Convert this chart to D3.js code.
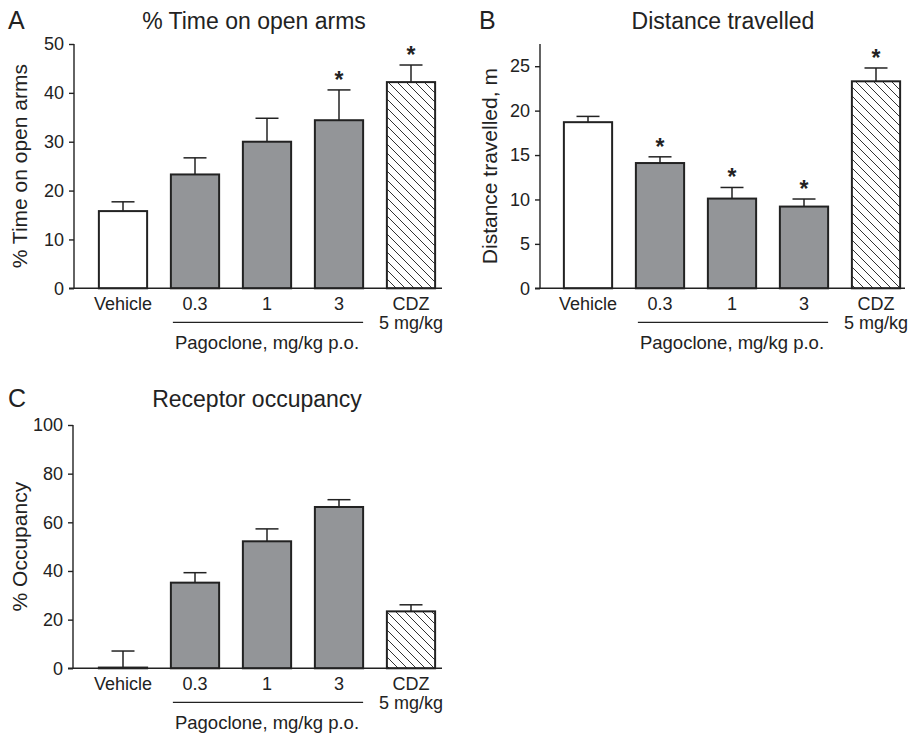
<!DOCTYPE html>
<html lang="en">
<head>
  <meta charset="UTF-8">
  <title>Pagoclone EPM</title>
  <script src="https://d3js.org/d3.v7.min.js"></script>
  <style>
    body {
      margin: 0;
      background: #fff;
      font-family: "Liberation Sans", Arial, sans-serif;
    }
    svg text {
      fill: #222;
    }
    .axis-line {
      stroke: #222;
      stroke-width: 1.4px;
      fill: none;
    }
    .bar {
      stroke: #222;
      stroke-width: 2px;
    }
    .err {
      stroke: #222;
      stroke-width: 1.5px;
    }
  </style>
</head>
<body>
<script>
// categories shared by all three panels
const categories = ['Vehicle', '0.3', '1', '3', 'CDZ'];
const barFills = ['white', 'gray', 'gray', 'gray', 'hatch'];

// A: % time on open arms (mean, SEM)
const timeOpenMean = [15.8, 23.3, 30.0, 34.4, 42.2];
const timeOpenSem = [1.9, 3.4, 4.8, 6.2, 3.5];
const timeOpenStar = [false, false, false, true, true];
const timeOpenTicks = [0, 10, 20, 30, 40, 50];

// B: distance travelled, m
const distMean = [18.7, 14.1, 10.1, 9.2, 23.3];
const distSem = [0.65, 0.7, 1.25, 0.85, 1.5];
const distStar = [false, true, true, true, true];
const distTicks = [0, 5, 10, 15, 20, 25];

// C: receptor occupancy, %
const occMean = [0.3, 35.2, 52.2, 66.3, 23.4];
const occSem = [6.8, 4.1, 5.1, 3.0, 2.7];
const occStar = [false, false, false, false, false];
const occTicks = [0, 20, 40, 60, 80, 100];

const svg = d3.select('body').append('svg')
  .attr('width', 909)
  .attr('height', 733);

const defs = svg.append('defs');
const pat = defs.append('pattern')
  .attr('id', 'hatch')
  .attr('patternUnits', 'userSpaceOnUse')
  .attr('width', 9)
  .attr('height', 9);
pat.append('rect').attr('width', 9).attr('height', 9).attr('fill', '#fff');
pat.append('path')
  .attr('d', 'M-1,-1 L10,10 M-1,8 L1,10 M8,-1 L10,1')
  .attr('stroke', '#333')
  .attr('stroke-width', 1);

function fillFor(kind) {
  if (kind === 'white') return '#fff';
  if (kind === 'gray') return '#939598';
  return 'url(#hatch)';
}

function drawPanel(cfg) {
  const g = svg.append('g');

  const y = d3.scaleLinear().domain([0, cfg.yMax]).range([cfg.bottom, cfg.top]);
  const x = d3.scaleBand()
    .domain(categories)
    .range([cfg.xStart, cfg.xStart + 5 * 72])
    .paddingInner(0.33)
    .paddingOuter(0.165);
  const bw = x.bandwidth();

  const rows = categories.map((c, i) => ({
    cat: c, mean: cfg.mean[i], sem: cfg.sem[i], star: cfg.star[i], fill: barFills[i]
  }));
  const cx = d => x(d.cat) + bw / 2;

  // y axis
  const yAxis = d3.axisLeft(y).tickValues(cfg.ticks).tickSize(5).tickPadding(5);
  const ya = g.append('g')
    .attr('transform', `translate(${cfg.axisX},0)`)
    .call(yAxis);
  ya.select('.domain').remove();
  ya.selectAll('.tick line').attr('stroke', '#222').attr('stroke-width', 1.4);
  ya.selectAll('.tick text')
    .attr('font-size', 18)
    .attr('font-family', '"Liberation Sans", Arial, sans-serif')
    .attr('fill', '#222');
  g.append('line').attr('class', 'axis-line')
    .attr('x1', cfg.axisX).attr('x2', cfg.axisX)
    .attr('y1', cfg.top).attr('y2', cfg.bottom);

  // bars
  g.selectAll('.bar')
    .data(rows)
    .enter().append('rect')
    .attr('class', 'bar')
    .attr('x', d => x(d.cat))
    .attr('width', bw)
    .attr('y', d => y(d.mean))
    .attr('height', d => y(0) - y(d.mean))
    .attr('fill', d => fillFor(d.fill));

  // error bars (upper only)
  const err = g.selectAll('.errg')
    .data(rows)
    .enter().append('g');
  err.append('line').attr('class', 'err')
    .attr('x1', cx).attr('x2', cx)
    .attr('y1', d => y(d.mean))
    .attr('y2', d => y(d.mean + d.sem));
  err.append('line').attr('class', 'err')
    .attr('x1', d => cx(d) - 11.5)
    .attr('x2', d => cx(d) + 11.5)
    .attr('y1', d => y(d.mean + d.sem))
    .attr('y2', d => y(d.mean + d.sem));

  // significance stars
  g.selectAll('.star')
    .data(rows.filter(d => d.star))
    .enter().append('text')
    .attr('x', cx)
    .attr('y', d => y(d.mean + d.sem) - 2)
    .attr('text-anchor', 'middle')
    .attr('font-size', 23)
    .attr('font-weight', 'bold')
    .text('*');

  // x axis line
  g.append('line').attr('class', 'axis-line')
    .attr('x1', cfg.axisX - 5).attr('x2', cfg.xEnd)
    .attr('y1', cfg.bottom).attr('y2', cfg.bottom);

  // category labels
  g.selectAll('.cat')
    .data(rows)
    .enter().append('text')
    .attr('x', cx)
    .attr('y', cfg.bottom + 22)
    .attr('text-anchor', 'middle')
    .attr('font-size', 18)
    .text(d => d.cat);
  g.append('text')
    .attr('x', x('CDZ') + bw / 2)
    .attr('y', cfg.bottom + 41)
    .attr('text-anchor', 'middle')
    .attr('font-size', 18)
    .text('5 mg/kg');

  // pagoclone bracket
  g.append('line')
    .attr('x1', x('0.3') + 2).attr('x2', x('3') + bw)
    .attr('y1', cfg.bottom + 34).attr('y2', cfg.bottom + 34)
    .attr('stroke', '#222').attr('stroke-width', 1.3);
  g.append('text')
    .attr('x', (x('0.3') + x('3') + bw) / 2)
    .attr('y', cfg.bottom + 61)
    .attr('text-anchor', 'middle')
    .attr('font-size', 18.5)
    .text('Pagoclone, mg/kg p.o.');

  // y label
  g.append('text')
    .attr('transform', `translate(${cfg.yLabelX},${(cfg.top + cfg.bottom) / 2}) rotate(-90)`)
    .attr('text-anchor', 'middle')
    .attr('font-size', 21)
    .text(cfg.yLabel);

  // title and panel letter
  g.append('text')
    .attr('x', cfg.titleX)
    .attr('y', cfg.titleY)
    .attr('text-anchor', 'middle')
    .attr('font-size', 23)
    .text(cfg.title);
  g.append('text')
    .attr('x', cfg.letterX)
    .attr('y', cfg.titleY)
    .attr('font-size', 25)
    .text(cfg.letter);
}

drawPanel({
  letter: 'A', title: '% Time on open arms', yLabel: '% Time on open arms',
  mean: timeOpenMean, sem: timeOpenSem, star: timeOpenStar, ticks: timeOpenTicks,
  yMax: 50, top: 44, bottom: 288.3, axisX: 74, xStart: 87, xEnd: 442,
  yLabelX: 27, titleX: 254, titleY: 29, letterX: 8
});

drawPanel({
  letter: 'B', title: 'Distance travelled', yLabel: 'Distance travelled, m',
  mean: distMean, sem: distSem, star: distStar, ticks: distTicks,
  yMax: 27.5, top: 44, bottom: 288.3, axisX: 540, xStart: 552, xEnd: 905,
  yLabelX: 497, titleX: 723, titleY: 29, letterX: 479
});

drawPanel({
  letter: 'C', title: 'Receptor occupancy', yLabel: '% Occupancy',
  mean: occMean, sem: occSem, star: occStar, ticks: occTicks,
  yMax: 100, top: 425, bottom: 668.3, axisX: 73, xStart: 87, xEnd: 442,
  yLabelX: 27, titleX: 257, titleY: 407, letterX: 8
});
</script>
</body>
</html>
